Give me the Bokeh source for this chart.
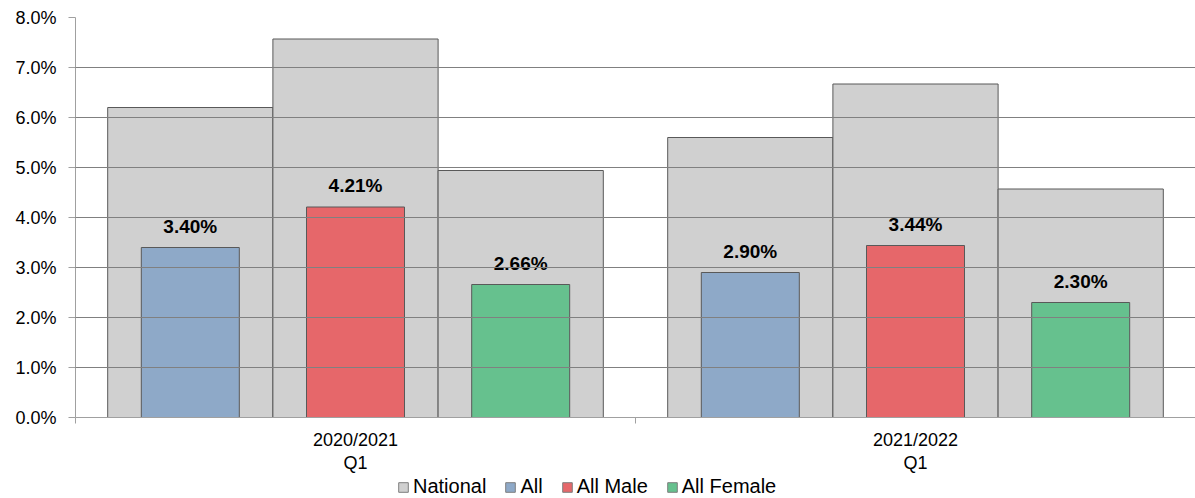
from bokeh.plotting import figure
from bokeh.layouts import column
from bokeh.models import ColumnDataSource, FixedTicker, PrintfTickFormatter, Legend, LegendItem
from bokeh.core.properties import value
from bokeh.embed import file_html
from bokeh.resources import INLINE

categories = ["2020/2021\nQ1", "2021/2022\nQ1"]
series = ["All", "All Male", "All Female"]
national = [[6.20, 7.57, 4.94], [5.60, 6.67, 4.57]]
local = [[3.40, 4.21, 2.66], [2.90, 3.44, 2.30]]
colors = ["#8EA9C8", "#E6676A", "#66C18E"]
national_color = "#D0D0D0"

offsets = [-0.295, 0.0, 0.295]

nx, nt, lx, lt, lc, lab = [], [], [], [], [], []
for ci in range(len(categories)):
    for si in range(len(series)):
        x = ci + 0.5 + offsets[si]
        nx.append(x); nt.append(national[ci][si])
        lx.append(x); lt.append(local[ci][si]); lc.append(colors[si])
        lab.append("%.2f%%" % local[ci][si])

p = figure(width=1195, height=476, x_range=(0, 2), y_range=(0, 8),
           output_backend="svg", toolbar_location=None,
           min_border_left=75, min_border_right=0, min_border_top=17, min_border_bottom=59)
p.outline_line_color = None
p.xgrid.grid_line_color = None
p.ygrid.grid_line_color = "#808080"
p.ygrid.level = "overlay"
p.ygrid.ticker = FixedTicker(ticks=[1, 2, 3, 4, 5, 6, 7, 8])

nat_src = ColumnDataSource(dict(x=nx, top=nt))
loc_src = ColumnDataSource(dict(x=lx, top=lt, color=lc, label=lab))

r_nat = p.vbar(x="x", top="top", width=0.295, bottom=0, source=nat_src,
               fill_color=national_color, line_color="#595959", line_width=1)
r_loc = p.vbar(x="x", top="top", width=0.175, bottom=0, source=loc_src,
               fill_color="color", line_color="#595959", line_width=1)
p.text(x="x", y="top", text="label", source=loc_src, text_align="center",
       text_baseline="bottom", y_offset=-11, text_font_size="19px",
       text_font_style="bold", text_font=value("Liberation Sans"), text_color="#000000")

# y axis
p.yaxis.ticker = FixedTicker(ticks=[0, 1, 2, 3, 4, 5, 6, 7, 8])
p.yaxis.formatter = PrintfTickFormatter(format="%.1f%%")
p.yaxis.axis_line_color = "#A0A0A0"
p.yaxis.major_tick_line_color = "#A0A0A0"
p.yaxis.major_tick_out = 7
p.yaxis.major_tick_in = 0
p.yaxis.minor_tick_line_color = None
p.yaxis.major_label_text_font = "Liberation Sans"
p.yaxis.major_label_text_font_size = "18px"
p.yaxis.major_label_text_color = "#000000"
p.yaxis.major_label_standoff = 12

# x axis
p.xaxis.ticker = FixedTicker(ticks=[0.5, 1.5], minor_ticks=[0, 1, 2])
p.xaxis.major_label_overrides = {0.5: categories[0], 1.5: categories[1]}
p.xaxis.axis_line_color = "#A0A0A0"
p.xaxis.major_tick_line_color = None
p.xaxis.minor_tick_line_color = "#A0A0A0"
p.xaxis.minor_tick_out = 6
p.xaxis.minor_tick_in = 0
p.xaxis.major_label_text_font = "Liberation Sans"
p.xaxis.major_label_text_font_size = "18px"
p.xaxis.major_label_text_color = "#000000"
p.xaxis.major_label_text_line_height = 1.15
p.xaxis.major_label_standoff = 6

# legend strip below the chart (its frame is aligned with the chart frame)
lg = figure(width=1195, height=22, x_range=(0, 1), y_range=(0, 1),
            output_backend="svg", toolbar_location=None,
            x_axis_location=None, y_axis_location=None,
            min_border_left=0, min_border_right=0, min_border_top=0, min_border_bottom=0)
lg.outline_line_color = None
lg.grid.grid_line_color = None
items = []
d1 = lg.quad(left=[-10], right=[-9], bottom=[-10], top=[-9],
             fill_color=national_color, line_color="#7F7F7F")
items.append(LegendItem(label="National", renderers=[d1]))
for s, c in zip(series, colors):
    d = lg.quad(left=[-10], right=[-9], bottom=[-10], top=[-9],
                fill_color=c, line_color="#7F7F7F")
    items.append(LegendItem(label=s, renderers=[d]))
legend = Legend(items=items, orientation="horizontal", location=(322, 0),
                label_text_font="Liberation Sans", label_text_font_size="20px",
                label_text_color="#000000", glyph_width=12, glyph_height=12,
                label_standoff=4, spacing=18, padding=0, margin=0,
                label_height=20, border_line_color=None, background_fill_alpha=0)
lg.add_layout(legend, "center")

layout = column(p, lg, spacing=0)
open("out.html", "w").write(file_html(layout, INLINE))
